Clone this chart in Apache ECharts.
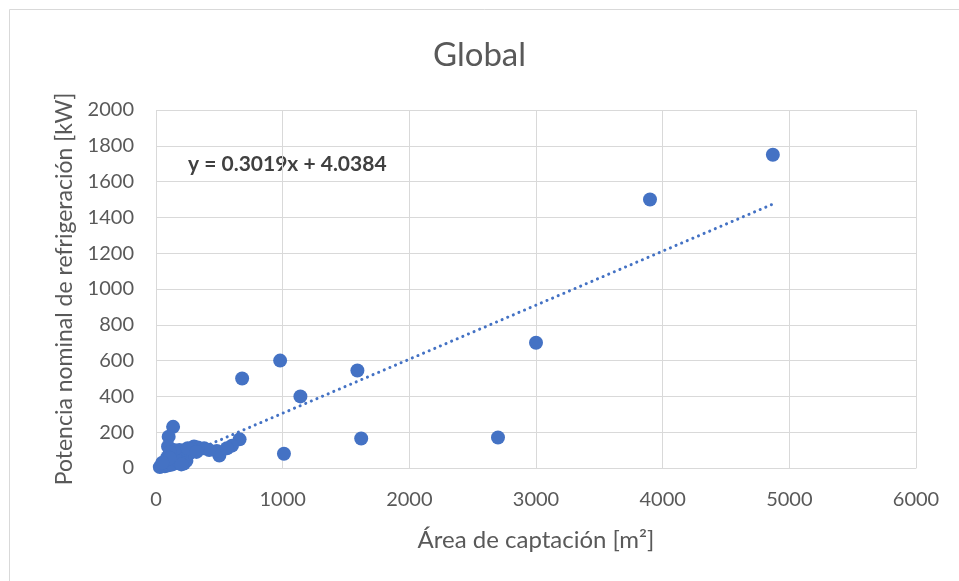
<!DOCTYPE html>
<html>
<head>
<meta charset="utf-8">
<script src="https://cdn.jsdelivr.net/npm/echarts@6/dist/echarts.min.js"></script>
<style>html,body{margin:0;padding:0;background:#fff;}#c{width:959px;height:581px;}</style>
</head>
<body>
<div id="c"></div>
<script>
const areaX = [4870, 3900, 3000, 2700, 1620, 1590, 1140, 980, 1010, 680, 660, 600, 500, 480, 560, 420, 380, 330, 300, 280, 260, 240, 230, 210, 200, 185, 170, 160, 150, 140, 135, 100, 95, 110, 90, 80, 120, 60, 40, 30, 70, 100, 130, 180, 220, 110, 50, 250, 320, 200];
const powerY = [1750, 1500, 700, 170, 165, 545, 400, 600, 80, 500, 160, 125, 70, 95, 110, 100, 110, 115, 120, 105, 80, 40, 70, 90, 60, 100, 70, 40, 80, 100, 230, 175, 120, 90, 60, 40, 30, 20, 10, 5, 10, 15, 20, 35, 25, 55, 30, 110, 90, 20];
const xTicks = [0, 1000, 2000, 3000, 4000, 5000, 6000];
const yTicks = [0, 200, 400, 600, 800, 1000, 1200, 1400, 1600, 1800, 2000];
const slope = 0.3019;
const intercept = 4.0384;

const points = areaX.map((x, i) => [x, powerY[i]]);
const xMin = Math.min(...areaX), xMax = Math.max(...areaX);
const trend = [[xMin, slope * xMin + intercept], [xMax, slope * xMax + intercept]];

const font = 'Lato, "Open Sans", sans-serif';
const gray = '#595959';
const chart = echarts.init(document.getElementById('c'));
chart.setOption({
  animation: false,
  backgroundColor: '#fff',
  title: {
    text: 'Global', left: 'center', top: 34,
    textStyle: { fontFamily: font, fontSize: 33, fontWeight: 'normal', color: gray }
  },
  graphic: [
    { type: 'rect', shape: { x: 9.5, y: 9.5, width: 1000, height: 1000 }, style: { fill: 'none', stroke: '#d9d9d9', lineWidth: 1 } },
    { type: 'text', left: 188, top: 154, style: { text: 'y = 0.3019x + 4.0384', font: 'bold 21px ' + font, fill: '#404040' } }
  ],
  grid: { left: 156, right: 43, top: 110, bottom: 113 },
  xAxis: {
    type: 'value', min: xTicks[0], max: xTicks[xTicks.length - 1], interval: 1000,
    name: 'Área de captación [m²]', nameLocation: 'middle', nameGap: 60,
    nameTextStyle: { fontFamily: font, fontSize: 24, color: gray },
    axisLine: { show: true, lineStyle: { color: '#d9d9d9' } },
    axisTick: { show: false },
    axisLabel: { margin: 22, fontFamily: font, fontSize: 20, color: gray, formatter: v => String(v) },
    splitLine: { show: true, lineStyle: { color: '#d9d9d9', width: 1 } }
  },
  yAxis: {
    type: 'value', min: yTicks[0], max: yTicks[yTicks.length - 1], interval: 200,
    name: 'Potencia nominal de refrigeración [kW]', nameLocation: 'middle', nameGap: 80,
    nameTextStyle: { fontFamily: font, fontSize: 23, color: gray },
    axisLine: { show: false },
    axisTick: { show: false },
    axisLabel: { margin: 22, fontFamily: font, fontSize: 20, color: gray, formatter: v => String(v) },
    splitLine: { show: true, lineStyle: { color: '#d9d9d9', width: 1 } }
  },
  series: [
    {
      type: 'scatter', data: points, symbolSize: 14,
      itemStyle: { color: '#4472C4', opacity: 1 }, z: 3
    },
    {
      type: 'line', data: trend, symbol: 'none', z: 2,
      lineStyle: { color: '#4472C4', width: 3, type: [0.1, 6], cap: 'round' }
    }
  ]
});
</script>
</body>
</html>
